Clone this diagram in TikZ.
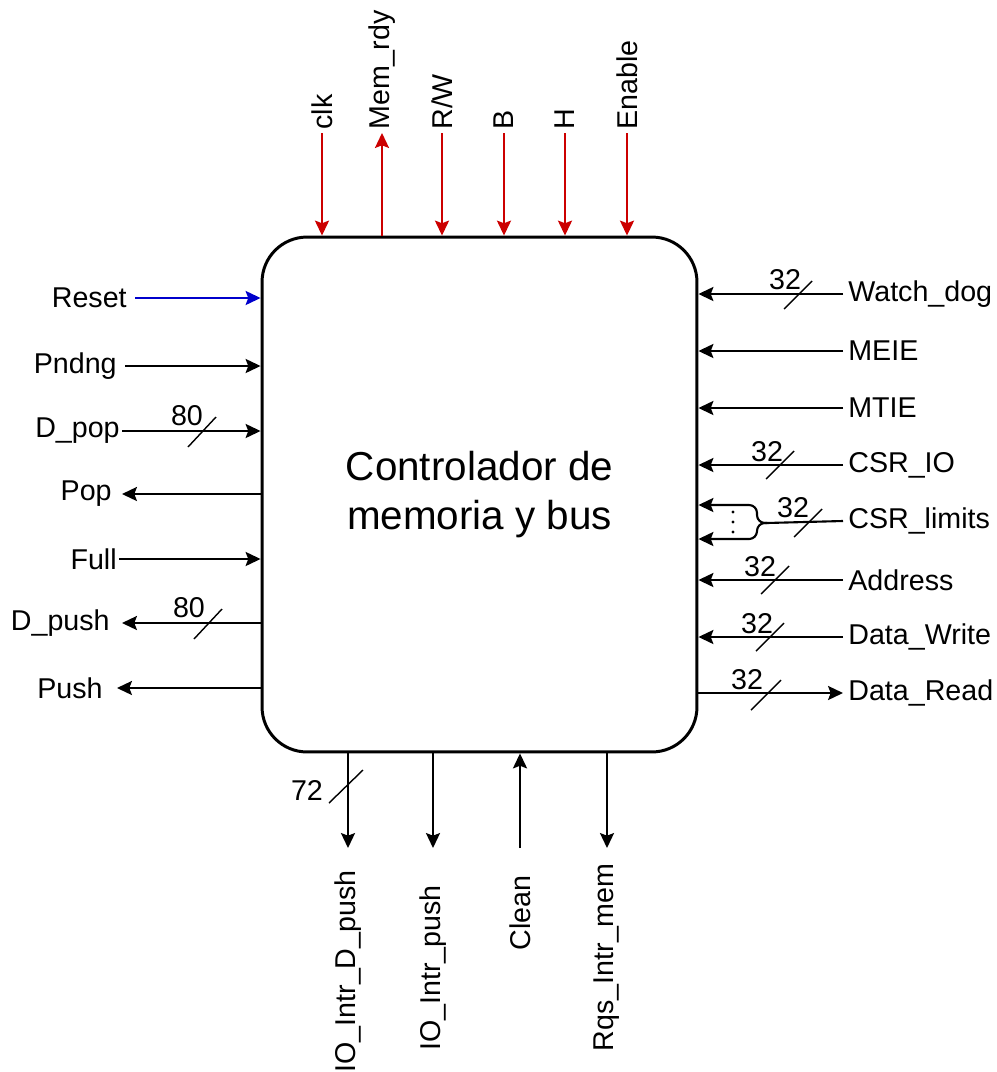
\documentclass[tikz,border=0pt]{standalone}
\usepackage{fontspec}
\setmainfont{Liberation Sans}
\usetikzlibrary{positioning, arrows.meta}
\definecolor{sigred}{RGB}{204,0,0}
\definecolor{sigblue}{RGB}{0,0,204}
\tikzset{
  ctrlbox/.style={draw, line width=1.7pt, rounded corners=0.9cm, minimum width=8.7cm, minimum height=10.3cm, align=center, font=\fontsize{23}{28.4}\selectfont},
  lbl/.style={inner sep=0pt, font=\fontsize{16.3}{19}\selectfont},
  vlbl/.style={lbl, rotate=90},
  sig/.style={line width=1.2pt, -{Stealth[length=8.5pt, width=8pt, inset=1.5pt]}},
  redsig/.style={sig, color=sigred},
  bluesig/.style={sig, color=sigblue},
  slash/.style={line width=0.8pt},
  bw/.style={lbl}
}

\begin{document}
\begin{tikzpicture}[x=0.02cm, y=-0.02cm]
  \useasboundingbox (0,0) rectangle (997,1072);

  \node[ctrlbox] (ctrl) at (479.5,494.5) {Controlador de\\memoria y bus};

  % top signals
  \node[vlbl, anchor=west] (clk) at (322,130) {clk};
  \node[vlbl, anchor=west] (memrdy) at (382,130) {Mem\_rdy};
  \node[vlbl, anchor=west] (rw) at (442,130) {R/W};
  \node[vlbl, anchor=west] (bsig) at (504,130) {B};
  \node[vlbl, anchor=west] (hsig) at (565,130) {H};
  \node[vlbl, anchor=west] (enable) at (627,130) {Enable};

  \draw[redsig] ([shift={(0,3)}]clk.west) -- (clk.west |- ctrl.north);
  \draw[redsig] (memrdy.west |- ctrl.north) -- ([shift={(0,3)}]memrdy.west);
  \draw[redsig] ([shift={(0,3)}]rw.west) -- (rw.west |- ctrl.north);
  \draw[redsig] ([shift={(0,3)}]bsig.west) -- (bsig.west |- ctrl.north);
  \draw[redsig] ([shift={(0,3)}]hsig.west) -- (hsig.west |- ctrl.north);
  \draw[redsig] ([shift={(0,3)}]enable.west) -- (enable.west |- ctrl.north);

  % left signals
  \node[lbl, anchor=east] (reset) at (127,298) {Reset};
  \node[lbl, anchor=east] (pndng) at (117,366) {Pndng};
  \node[lbl, anchor=east] (dpop) at (120,431) {D\_pop};
  \node[lbl, anchor=east] (pop) at (112,494) {Pop};
  \node[lbl, anchor=east] (full) at (117,559) {Full};
  \node[lbl, anchor=east] (dpush) at (110,623) {D\_push};
  \node[lbl, anchor=east] (push) at (103,688) {Push};

  \draw[bluesig] ([shift={(8,0)}]reset.east) -- (reset.east -| ctrl.west);
  \draw[sig] ([shift={(8,0)}]pndng.east) -- (pndng.east -| ctrl.west);
  \draw[sig] ([shift={(2,0)}]dpop.east) -- (dpop.east -| ctrl.west);
  \draw[sig] (pop.east -| ctrl.west) -- ([shift={(10,0)}]pop.east);
  \draw[sig] ([shift={(2,0)}]full.east) -- (full.east -| ctrl.west);
  \draw[sig] (dpush.east -| ctrl.west) -- ([shift={(12,0)}]dpush.east);
  \draw[sig] (push.east -| ctrl.west) -- ([shift={(14,0)}]push.east);

  \node[bw] (dpopw) at (187,416) {80};
  \draw[slash] (188,447) -- (216,417);
  \node[bw] (dpushw) at (189,608) {80};
  \draw[slash] (194,639) -- (222,609);

  % right signals
  \node[lbl, anchor=west] (wdog) at (848,294) {Watch\_dog};
  \node[lbl, anchor=west] (meie) at (848,351) {MEIE};
  \node[lbl, anchor=west] (mtie) at (848,408) {MTIE};
  \node[lbl, anchor=west] (csrio) at (848,465) {CSR\_IO};
  \node[lbl, anchor=west] (csrlim) at (848,521) {CSR\_limits};
  \node[lbl, anchor=west] (addr) at (848,580) {Address};
  \node[lbl, anchor=west] (dwrite) at (848,637) {Data\_Write};
  \node[lbl, anchor=west] (dread) at (848,693) {Data\_Read};

  \draw[sig] ([shift={(-5,0)}]wdog.west) -- (wdog.west -| ctrl.east);
  \draw[sig] ([shift={(-5,0)}]meie.west) -- (meie.west -| ctrl.east);
  \draw[sig] ([shift={(-5,0)}]mtie.west) -- (mtie.west -| ctrl.east);
  \draw[sig] ([shift={(-5,0)}]csrio.west) -- (csrio.west -| ctrl.east);
  \draw[sig] ([shift={(-5,0)}]addr.west) -- (addr.west -| ctrl.east);
  \draw[sig] ([shift={(-5,0)}]dwrite.west) -- (dwrite.west -| ctrl.east);
  \draw[sig] (dread.west -| ctrl.east) -- ([shift={(-5,0)}]dread.west);

  % CSR_limits bus split
  \coordinate (fork) at (767,523);
  \draw[line width=1.2pt] ([shift={(-5,0)}]csrlim.west) -- (fork);
  \draw[sig, rounded corners=4.5pt] (fork) -| (757,505) -- (ctrl.east |- 0,505);
  \draw[sig, rounded corners=4.5pt] (fork) -| (757,539) -- (ctrl.east |- 0,539);
  \fill (733,512) circle (1.6) (733,522) circle (1.6) (733,532) circle (1.6);

  \node[bw] (wdogw) at (785,280) {32};
  \draw[slash] (784,309) -- (812,281);
  \node[bw] (csriow) at (767,452) {32};
  \draw[slash] (766,479) -- (794,451);
  \node[bw] (csrlimw) at (793,508) {32};
  \draw[slash] (794,537) -- (822,509);
  \node[bw] (addrw) at (760,567) {32};
  \draw[slash] (761,594) -- (789,566);
  \node[bw] (dwritew) at (757,624) {32};
  \draw[slash] (756,651) -- (784,623);
  \node[bw] (dreadw) at (747,680) {32};
  \draw[slash] (751,710) -- (781,680);

  % bottom signals
  \coordinate (botend) at (0,848);
  \node[vlbl, anchor=east] (iodpush) at (348,870) {IO\_Intr\_D\_push};
  \node[vlbl, anchor=east] (iopush) at (433,885) {IO\_Intr\_push};
  \node[vlbl, anchor=east] (clean) at (520,875) {Clean};
  \node[vlbl, anchor=east] (rqs) at (607,863) {Rqs\_Intr\_mem};

  \draw[sig] (iodpush.east |- ctrl.south) -- (iodpush.east |- botend);
  \draw[sig] (iopush.east |- ctrl.south) -- (iopush.east |- botend);
  \draw[sig] (clean.east |- botend) -- (clean.east |- ctrl.south);
  \draw[sig] (rqs.east |- ctrl.south) -- (rqs.east |- botend);

  \node[bw] (iodpushw) at (307,790) {72};
  \draw[slash] (329,803) -- (363,770);
\end{tikzpicture}
\end{document}
